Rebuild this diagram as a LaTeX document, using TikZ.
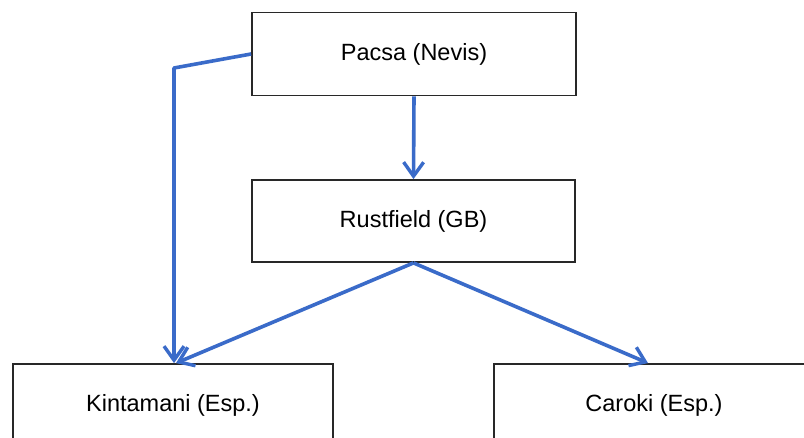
\documentclass[tikz,border=0pt]{standalone}
\usepackage{fontspec}
\setmainfont{Liberation Sans}
\usetikzlibrary{arrows.meta}
\definecolor{connblue}{RGB}{58,107,201}
\definecolor{boxline}{RGB}{40,40,40}
\begin{document}
\begin{tikzpicture}[x=1pt,y=-1pt,
  box/.style={draw=boxline, line width=1.8pt, fill=white, inner sep=0pt,
    font=\fontsize{23.5}{28}\selectfont},
  conn/.style={draw=connblue, line width=3.6pt, line join=round,
    -{Straight Barb[length=14pt,width=20pt,line width=3.4pt]}}]
\useasboundingbox (0,0) rectangle (804,438);
\fill[white] (0,0) rectangle (804,438);
\clip (0,0) rectangle (804,438);
\node[box, minimum width=324pt, minimum height=83pt] (pacsa) at (414,54) {Pacsa (Nevis)};
\node[box, minimum width=323pt, minimum height=82pt] (rust) at (413.5,221) {Rustfield (GB)};
\node[box, minimum width=320pt, minimum height=82pt] (kint) at (173,405) {Kintamani (Esp.)};
\node[box, minimum width=320pt, minimum height=82pt] (caro) at (654,405) {Caroki (Esp.)};
\coordinate (corner) at (174,68);
\draw[conn] (pacsa.west) -- (corner) -- (corner |- kint.north);
\draw[conn] (pacsa.south) -- (rust.north);
\draw[conn] (rust.south) -- ([xshift=3pt]kint.north);
\draw[conn] (rust.south) -- ([xshift=-6pt]caro.north);
\end{tikzpicture}
\end{document}
